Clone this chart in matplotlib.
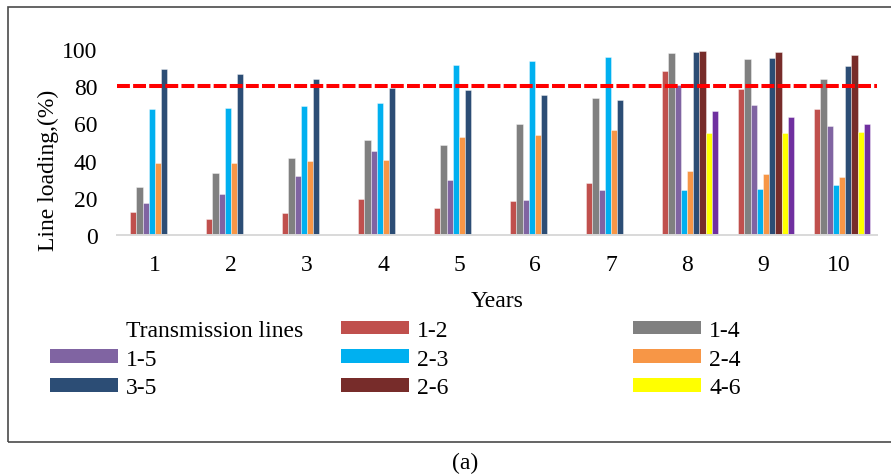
import numpy as np
import matplotlib
matplotlib.use("Agg")
import matplotlib.pyplot as plt
from matplotlib.patches import Patch, Rectangle

plt.rcParams['font.family'] = ['Liberation Serif', 'DejaVu Serif']

# ---------------- data ----------------
years = ['1', '2', '3', '4', '5', '6', '7', '8', '9', '10']
nan = np.nan
line_1_2 = [12.4, 8.4, 11.7, 19.6, 14.4, 18.1, 27.8, 88.2, 78.3, 67.6]
line_1_4 = [26.0, 33.5, 41.6, 50.9, 48.2, 59.9, 73.5, 98.1, 94.5, 84.1]
line_1_5 = [17.4, 21.9, 31.7, 45.0, 29.4, 19.0, 24.0, 80.5, 70.1, 58.6]
line_2_3 = [67.6, 68.5, 69.6, 70.8, 91.4, 93.4, 95.5, 24.2, 24.9, 26.7]
line_2_4 = [38.6, 38.9, 39.6, 40.2, 52.5, 54.0, 56.5, 34.4, 32.8, 31.4]
line_3_5 = [89.5, 86.8, 83.7, 79.2, 77.8, 75.5, 72.8, 98.6, 95.4, 90.7]
line_2_6 = [nan, nan, nan, nan, nan, nan, nan, 99.1, 98.2, 96.8]
line_4_6 = [nan, nan, nan, nan, nan, nan, nan, 54.7, 54.8, 55.4]
line_extra = [nan, nan, nan, nan, nan, nan, nan, 66.9, 63.3, 59.5]
limit = 80

legend_title = 'Transmission lines'
series_names = ['1-2', '1-4', '1-5', '2-3', '2-4', '3-5', '2-6', '4-6', '_nolegend_']
series_values = [line_1_2, line_1_4, line_1_5, line_2_3, line_2_4, line_3_5,
                 line_2_6, line_4_6, line_extra]
series_colors = ['#C0504D', '#808080', '#8064A2', '#00B0F0', '#F79646',
                 '#2C4D75', '#772C2A', '#FFFF00', '#7030A0']

# ---------------- figure ----------------
W, H = 891, 477
fig = plt.figure(figsize=(W / 100, H / 100), dpi=100)
ax_l, ax_r, ax_b, ax_t = 117, 877, 236, 50
ax = fig.add_axes([ax_l / W, 1 - ax_b / H, (ax_r - ax_l) / W, (ax_b - ax_t) / H])

FS = 17
n_slots = 10  # first slot belongs to the empty "Transmission lines" series
bw = 1 / 12.26
x = np.arange(1, len(years) + 1)
handles = {}
for i, (name, vals, col) in enumerate(zip(series_names, series_values, series_colors)):
    slot = i + 1
    off = (slot - (n_slots - 1) / 2) * bw
    ax.bar(x + off, np.array(vals, dtype=float), width=bw, color=col,
           edgecolor=(1, 1, 1, 0.45), linewidth=0.6, label=name, zorder=2)
    handles[name] = Patch(facecolor=col, edgecolor='none')

ax.axhline(limit, color='#FF0000', lw=2.9, linestyle=(0, (3.2, 0.8)), zorder=5)

ax.set_xlim(0.5, 10.5)
ax.set_ylim(0, 100)
ax.set_xticks(x)
ax.set_xticklabels(years)
ax.set_yticks(np.arange(0, 101, 20))
ax.tick_params(axis='both', length=0, labelsize=FS)
ax.tick_params(axis='x', pad=14)
ax.tick_params(axis='y', pad=14)
for s in ['top', 'right', 'left']:
    ax.spines[s].set_visible(False)
ax.spines['bottom'].set_color('#D9D9D9')
ax.spines['bottom'].set_linewidth(1.4)
ax.spines['bottom'].set_zorder(3)

ax.set_xlabel('Years', fontsize=FS, va='center')
ax.xaxis.set_label_coords(0.5, (ax_b - 302) / (ax_b - ax_t))
ax.set_ylabel('Line loading,(%)', fontsize=FS, va='center')
ax.yaxis.set_label_coords((48 - ax_l) / (ax_r - ax_l), (ax_b - 170) / (ax_b - ax_t))

# ---------------- legend (3 columns, row-major like the original) ----------------
empty = Patch(facecolor='none', edgecolor='none')
columns = [
    [(empty, legend_title), (handles['1-5'], '1-5'), (handles['3-5'], '3-5')],
    [(handles['1-2'], '1-2'), (handles['2-3'], '2-3'), (handles['2-6'], '2-6')],
    [(handles['1-4'], '1-4'), (handles['2-4'], '2-4'), (handles['4-6'], '4-6')],
]
col_x = [50, 341, 633]
fs_px = FS * 100 / 72
for cx, col in zip(col_x, columns):
    fig.legend([h for h, _ in col], [t for _, t in col],
               loc='upper left', bbox_to_anchor=(cx / W, 1 - 321 / H),
               frameon=False, borderpad=0, borderaxespad=0,
               handlelength=68 / fs_px, handleheight=12 / fs_px,
               handletextpad=8 / fs_px, labelspacing=0.32, fontsize=FS)

# ---------------- frame and caption ----------------
fig.patches.append(Rectangle((7.5 / W, 1 - 443 / H), (895 - 7.5) / W, (443 - 8) / H,
                             transform=fig.transFigure, fill=False,
                             edgecolor='#4a4a4a', linewidth=1.2))
fig.text(465 / W, 1 - 463 / H, '(a)', ha='center', va='center', fontsize=FS)

fig.savefig('out.png', dpi=100)
